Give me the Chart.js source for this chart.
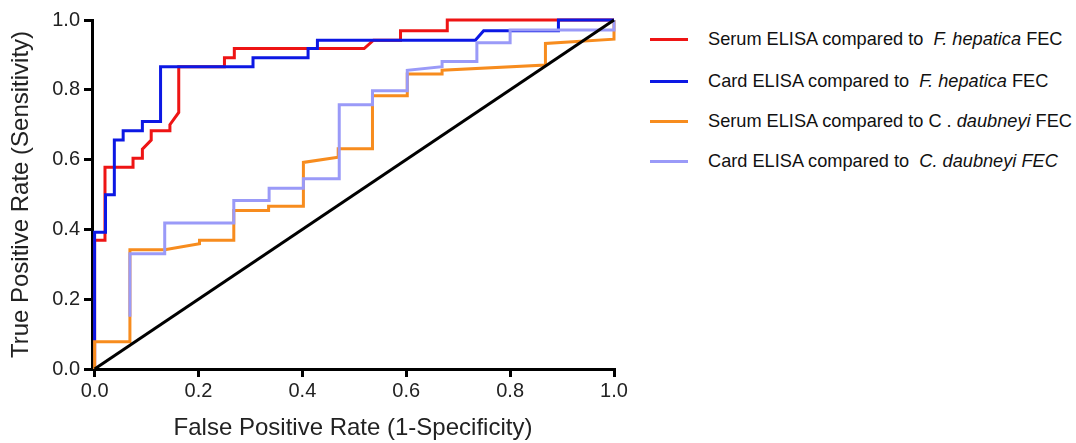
<!DOCTYPE html>
<html>
<head>
<meta charset="utf-8">
<title>ROC curves</title>
<script src="https://cdn.jsdelivr.net/npm/chart.js"></script>
<style>
    body { margin: 0; background: #fff; font-family: "Liberation Sans", Arial, sans-serif; }
    #wrap { position: relative; width: 1076px; height: 443px; overflow: hidden; }
    #rocChart { position: absolute; left: 0; top: 0; }
    .legend-item { position: absolute; left: 650px; height: 24px; line-height: 24px; white-space: pre; font-size: 18.2px; color: #111; }
    .legend-item .swatch { position: absolute; left: 0; top: 11px; width: 38px; height: 3px; }
    .legend-item .label { position: absolute; left: 58px; top: 0; }
</style>
</head>
<body>
<div id="wrap">
    <canvas id="rocChart" width="640" height="443"></canvas>
    <div class="legend-item" style="top:27px"><span class="swatch" style="background:#ee1414"></span><span class="label">Serum ELISA compared to  <i>F. hepatica</i> FEC</span></div>
    <div class="legend-item" style="top:69px"><span class="swatch" style="background:#0c18e4"></span><span class="label">Card ELISA compared to  <i>F. hepatica</i> FEC</span></div>
    <div class="legend-item" style="top:109px"><span class="swatch" style="background:#f78c1e"></span><span class="label">Serum ELISA compared to C . <i>daubneyi</i> FEC</span></div>
    <div class="legend-item" style="top:149px"><span class="swatch" style="background:#9a9af8"></span><span class="label">Card ELISA compared to  <i>C. daubneyi FEC</i></span></div>
</div>
<script>
// Axis ticks
const xTickValues = [0, 0.2, 0.4, 0.6, 0.8, 1.0];
const yTickValues = [0, 0.2, 0.4, 0.6, 0.8, 1.0];

// Serum ELISA vs F. hepatica FEC
const serumFhFpr = [0, 0, 0.02, 0.02, 0.074, 0.074, 0.092, 0.092, 0.109, 0.109, 0.145, 0.145, 0.162, 0.162, 0.25, 0.25, 0.269, 0.269, 0.519, 0.537, 0.589, 0.589, 0.679, 0.679, 1.0];
const serumFhTpr = [0, 0.369, 0.369, 0.578, 0.578, 0.604, 0.604, 0.63, 0.656, 0.683, 0.683, 0.7, 0.735, 0.866, 0.866, 0.892, 0.892, 0.918, 0.918, 0.942, 0.942, 0.969, 0.969, 1.0, 1.0];

// Card ELISA vs F. hepatica FEC
const cardFhFpr = [0, 0, 0.021, 0.021, 0.038, 0.038, 0.055, 0.055, 0.092, 0.092, 0.127, 0.127, 0.305, 0.305, 0.411, 0.411, 0.429, 0.429, 0.733, 0.749, 0.893, 0.893, 1.0];
const cardFhTpr = [0, 0.392, 0.392, 0.499, 0.499, 0.656, 0.656, 0.683, 0.683, 0.709, 0.709, 0.866, 0.866, 0.892, 0.892, 0.918, 0.918, 0.942, 0.942, 0.969, 0.969, 1.0, 1.0];

// Serum ELISA vs C. daubneyi FEC
const serumCdFpr = [0, 0, 0.068, 0.068, 0.135, 0.202, 0.202, 0.268, 0.268, 0.335, 0.335, 0.402, 0.402, 0.469, 0.469, 0.535, 0.535, 0.602, 0.602, 0.669, 0.669, 0.868, 0.868, 1.0, 1.0];
const serumCdTpr = [0, 0.078, 0.078, 0.342, 0.342, 0.359, 0.369, 0.369, 0.454, 0.454, 0.466, 0.466, 0.592, 0.607, 0.631, 0.631, 0.783, 0.783, 0.845, 0.845, 0.856, 0.871, 0.933, 0.945, 1.0];

// Card ELISA vs C. daubneyi FEC
const cardCdFpr = [0.068, 0.068, 0.135, 0.135, 0.268, 0.268, 0.336, 0.336, 0.402, 0.402, 0.471, 0.471, 0.535, 0.535, 0.602, 0.602, 0.669, 0.669, 0.736, 0.736, 0.8, 0.8, 1.0, 1.0];
const cardCdTpr = [0.15, 0.33, 0.33, 0.418, 0.418, 0.483, 0.483, 0.518, 0.518, 0.545, 0.545, 0.757, 0.757, 0.797, 0.797, 0.856, 0.866, 0.881, 0.881, 0.935, 0.935, 0.971, 0.971, 1.0];

// Line of no discrimination
const refFpr = [0, 1];
const refTpr = [0, 1];

function toPoints(xs, ys) {
    return xs.map((x, i) => ({ x: x, y: ys[i] }));
}

function rocSet(xs, ys, color, order) {
    return {
        data: toPoints(xs, ys),
        showLine: true,
        borderColor: color,
        borderWidth: 3,
        pointRadius: 0,
        tension: 0,
        clip: 4,
        order: order
    };
}

const axisFont = { family: '"Liberation Sans", Arial, sans-serif', size: 20 };
const titleFont = { family: '"Liberation Sans", Arial, sans-serif', size: 24 };

const ctx = document.getElementById('rocChart').getContext('2d');
new Chart(ctx, {
    type: 'scatter',
    data: {
        datasets: [
            rocSet(serumFhFpr, serumFhTpr, '#ee1414', 5),
            rocSet(cardFhFpr, cardFhTpr, '#0c18e4', 4),
            rocSet(serumCdFpr, serumCdTpr, '#f78c1e', 3),
            rocSet(cardCdFpr, cardCdTpr, '#9a9af8', 2),
            rocSet(refFpr, refTpr, '#000000', 1)
        ]
    },
    options: {
        responsive: false,
        animation: false,
        layout: { padding: { top: 20, right: 26, bottom: 0, left: 0 } },
        plugins: { legend: { display: false }, tooltip: { enabled: false } },
        scales: {
            x: {
                type: 'linear',
                min: -0.005,
                max: 1,
                afterBuildTicks: scale => { scale.ticks = xTickValues.map(v => ({ value: v })); },
                afterFit: scale => { scale.height = 74; },
                ticks: { color: '#222', font: axisFont, padding: 2, callback: v => v.toFixed(1), maxRotation: 0 },
                grid: { drawOnChartArea: false, drawTicks: true, tickLength: 8, lineWidth: 3, color: '#000' },
                border: { display: true, width: 3, color: '#000' },
                title: { display: true, text: 'False Positive Rate (1-Specificity)', color: '#222', font: titleFont, padding: { top: 0, bottom: 0 } }
            },
            y: {
                type: 'linear',
                min: 0,
                max: 1,
                afterBuildTicks: scale => { scale.ticks = yTickValues.map(v => ({ value: v })); },
                afterFit: scale => { scale.width = 92; },
                ticks: { color: '#222', font: axisFont, padding: 4, callback: v => v.toFixed(1) },
                grid: { drawOnChartArea: false, drawTicks: true, tickLength: 8, lineWidth: 3, color: '#000' },
                border: { display: true, width: 3, color: '#000' },
                title: { display: true, text: 'True Positive Rate (Sensitivity)', color: '#222', font: titleFont, padding: { top: 7, bottom: 0 } }
            }
        }
    }
});
</script>
</body>
</html>
